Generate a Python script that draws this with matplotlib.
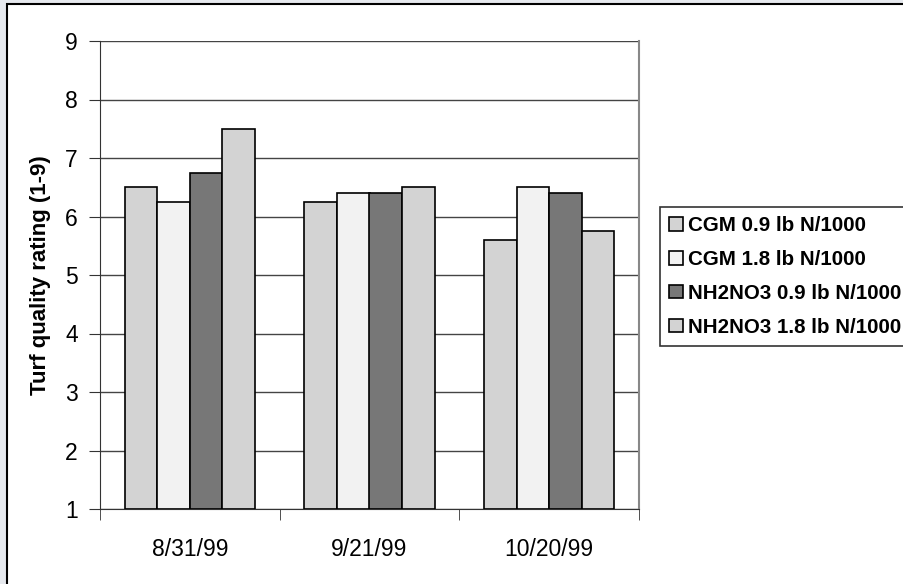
import numpy as np
import matplotlib
matplotlib.use("Agg")
import matplotlib.pyplot as plt
from matplotlib.patches import Rectangle

plt.rcParams['font.family'] = ['Liberation Sans', 'DejaVu Sans']

# turf quality ratings
dates = ["8/31/99", "9/21/99", "10/20/99"]
cgm_09 = [6.5, 6.25, 5.6]
cgm_18 = [6.25, 6.4, 6.5]
nh_09 = [6.75, 6.4, 6.4]
nh_18 = [7.5, 6.5, 5.75]
series_names = ["CGM 0.9 lb N/1000", "CGM 1.8 lb N/1000",
                "NH2NO3 0.9 lb N/1000", "NH2NO3 1.8 lb N/1000"]
colors = ["#d3d3d3", "#f2f2f2", "#777777", "#d3d3d3"]

W, H = 904, 584
fig = plt.figure(figsize=(W / 100, H / 100), dpi=100)
fig.patch.set_facecolor("#e6e9ee")

# white panel with black frame (left/top edges visible)
fig.patches.append(Rectangle((7 / W, -0.05), 1.0, 1.05 - 4 / H,
                             transform=fig.transFigure, facecolor="white",
                             edgecolor="black", linewidth=1.5, zorder=-5))

ax = fig.add_axes([100 / W, 1 - 509 / H, 539 / W, 468 / H])
ax.set_zorder(2)
ax.set_facecolor("white")

x = np.arange(len(dates))
bw = 0.181
all_series = [cgm_09, cgm_18, nh_09, nh_18]
for i, (vals, name, c) in enumerate(zip(all_series, series_names, colors)):
    ax.bar(x + (i - 1.5) * bw, np.array(vals) - 1, bottom=1, width=bw,
           color=c, edgecolor="black", linewidth=1.2, label=name, zorder=3)

ax.set_xlim(-0.5, 2.5)
ax.set_ylim(1, 9)
ax.set_yticks(range(1, 10))
ax.yaxis.grid(True, color="#444444", linewidth=1.0, zorder=0)
ax.set_axisbelow(True)

ax.set_xticks(x)
ax.set_xticklabels(dates, fontsize=16.5)
ax.set_xticks([-0.5, 0.5, 1.5, 2.5], minor=True)
ax.tick_params(axis="x", which="major", length=0, pad=21)
ax.tick_params(axis="x", which="minor", length=8, direction="out", color="#333333")
ax.tick_params(axis="y", length=8, direction="out", labelsize=16.5, pad=8,
               color="#333333")

ax.spines["top"].set_visible(False)
ax.spines["right"].set_color("#888888")
ax.spines["right"].set_linewidth(1.5)
ax.spines["left"].set_color("#333333")
ax.spines["bottom"].set_color("#333333")

ax.set_ylabel("Turf quality rating (1-9)", fontsize=16, fontweight="bold",
              labelpad=10)

leg = fig.legend(loc="upper left", bbox_to_anchor=(660 / W, 1 - 207 / H),
                 frameon=True, fancybox=False, edgecolor="black",
                 prop={"size": 14.8, "weight": "bold"},
                 handlelength=0.65, handleheight=0.65, handletextpad=0.25,
                 labelspacing=0.72, borderpad=0.45, borderaxespad=0)
leg.get_frame().set_linewidth(1.2)

fig.savefig("out.png", dpi=100, facecolor=fig.get_facecolor())
